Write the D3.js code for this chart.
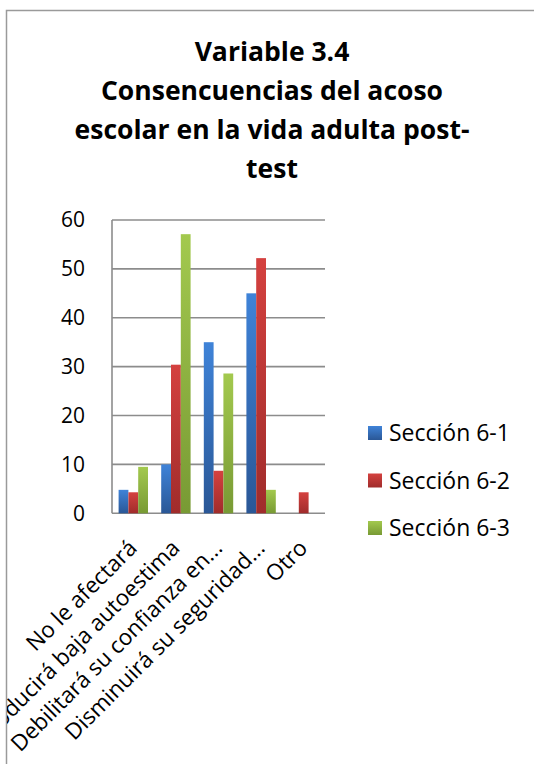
<!DOCTYPE html>
<html><head><meta charset="utf-8">
<script src="https://cdn.jsdelivr.net/npm/d3@7"></script>
<style>body{margin:0;background:#fff}svg{display:block}</style>
</head><body>
<script>
const categories = ["No le afectará","Producirá baja autoestima","Debilitará su confianza en...","Disminuirá su seguridad...","Otro"];
const seriesNames = ["Sección 6-1","Sección 6-2","Sección 6-3"];
const s1 = [4.8, 10, 35, 45, 0];
const s2 = [4.3, 30.4, 8.7, 52.2, 4.3];
const s3 = [9.5, 57.1, 28.6, 4.8, 0];
const yTicks = [0,10,20,30,40,50,60];
const titleLines = ["Variable 3.4","Consencuencias del acoso","escolar en la vida adulta post-","test"];

const W=534,H=764;
const font="'Open Sans', sans-serif";
const svg=d3.select("body").append("svg").attr("width",W).attr("height",H);
const defs=svg.append("defs");
defs.append("clipPath").attr("id","frame").append("rect").attr("x",7).attr("y",11).attr("width",W).attr("height",H);
const cols=[["#3f83d8","#2a5796"],["#d4413f","#a02c2b"],["#a3c94e","#789a34"]];
cols.forEach((c,i)=>{const g=defs.append("linearGradient").attr("id","g"+i).attr("x1",0).attr("y1",0).attr("x2",0).attr("y2",1);
 g.append("stop").attr("offset","0%").attr("stop-color",c[0]);g.append("stop").attr("offset","100%").attr("stop-color",c[1]);});

// fit font size so the reference text has the target width
function fitSize(refText, target, base, weight){
 const t=svg.append("text").attr("font-family",font).attr("font-size",base)
   .attr("font-weight",weight||null).text(refText);
 const w=t.node().getComputedTextLength(); t.remove();
 return base*target/w;
}

// frame
svg.append("path").attr("d",`M6.5,${H} V10.5 H${W}`).attr("fill","none").attr("stroke","#9a9a9a").attr("stroke-width",1.5);

const g=svg.append("g").attr("clip-path","url(#frame)");
// title
const titleSize=fitSize(titleLines[2],395,24,"bold");
g.append("g").selectAll("text").data(titleLines).join("text")
 .attr("x",272).attr("y",(d,i)=>[60.7,99.5,138.5,178][i]).attr("text-anchor","middle")
 .attr("font-family",font).attr("font-weight","bold").attr("font-size",titleSize).attr("fill","#000").text(d=>d);

const x0=d3.scaleBand().domain(categories).range([112,325]).paddingInner(0.31).paddingOuter(0.155);
const x1=d3.scaleBand().domain(seriesNames).range([0,x0.bandwidth()]);
const y=d3.scaleLinear().domain([0,60]).range([513.3,220]);

// grid
g.append("g").selectAll("line").data(yTicks).join("line")
 .attr("x1",112).attr("x2",325).attr("y1",d=>y(d)).attr("y2",d=>y(d))
 .attr("stroke","#8c8c8c").attr("stroke-width",1.6);
g.append("line").attr("x1",112).attr("x2",112).attr("y1",y(60)).attr("y2",y(0)).attr("stroke","#8c8c8c").attr("stroke-width",1.6);

const tickSize=fitSize("60",24,20);
const yAxis=g.append("g").attr("transform","translate(112,0)").call(d3.axisLeft(y).tickValues(yTicks).tickSize(0).tickPadding(27));
yAxis.select(".domain").remove();
yAxis.selectAll("text").attr("font-family",font).attr("font-size",tickSize).attr("fill","#000");

const series=[s1,s2,s3];
series.forEach((vals,si)=>{
 g.append("g").selectAll("rect").data(vals).join("rect")
  .attr("x",(d,i)=>x0(categories[i])+x1(seriesNames[si]))
  .attr("width",x1.bandwidth())
  .attr("y",d=>y(d)).attr("height",d=>y(0)-y(d))
  .attr("fill",`url(#g${si})`);
});

// x labels
const labSize=fitSize(categories[2],288,20);
g.append("g").selectAll("text").data(categories).join("text")
 .attr("transform",d=>`translate(${x0(d)+x0.bandwidth()/2-6},${y(0)+25}) rotate(-45)`)
 .attr("text-anchor","end").attr("dy","0.7em")
 .attr("font-family",font).attr("font-size",labSize).attr("fill","#000").text(d=>d);

// legend
const legSize=fitSize(seriesNames[0],121,20);
const lg=g.append("g");
seriesNames.forEach((n,i)=>{
 const yy=433+i*47.5;
 lg.append("rect").attr("x",368).attr("y",yy-7).attr("width",14).attr("height",14).attr("fill",`url(#g${i})`);
 lg.append("text").attr("x",389).attr("y",yy).attr("dy","0.35em").attr("font-family",font).attr("font-size",legSize).attr("fill","#000").text(n);
});
</script>
</body></html>
